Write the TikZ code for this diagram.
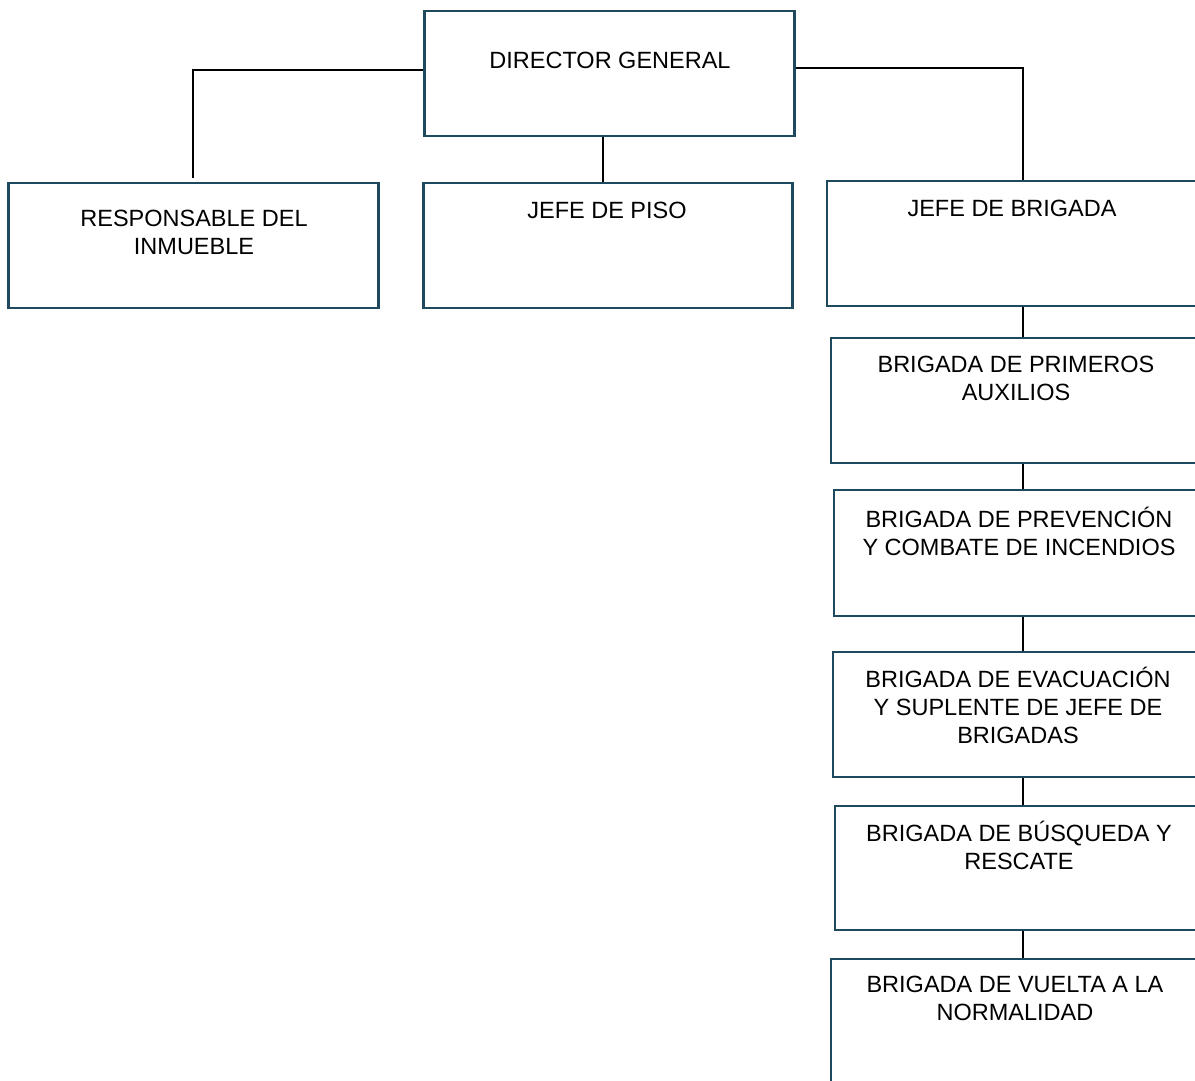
\documentclass[tikz,border=0pt]{standalone}
\usepackage{fontspec}
\setmainfont{Liberation Sans}
\definecolor{boxline}{HTML}{1F4A5E}
\begin{document}
\begin{tikzpicture}[x=1pt,y=-1pt,
  box/.style={draw=boxline,line width=2.6pt,fill=white,inner sep=0pt},
  txt/.style={align=center,font=\fontsize{23.5}{28}\selectfont,inner sep=0pt,text=black},
  link/.style={draw=black,line width=1.1pt}]
\clip (0,0) rectangle (1195,1080);
\fill[white] (0,0) rectangle (1195,1080);
% boxes
\node[box,minimum width=370pt,minimum height=125pt] (dg) at (609.5,73.5) {};
\node[box,minimum width=370pt,minimum height=125pt] (rb) at (193.5,245.5) {};
\node[box,minimum width=369pt,minimum height=125pt] (jp) at (608,245.5) {};
\node[box,minimum width=388pt,minimum height=125pt] (jb) at (1021,243.5) {};
\node[box,minimum width=384pt,minimum height=125pt] (pa) at (1023,400.5) {};
\node[box,minimum width=380pt,minimum height=126pt] (pc) at (1024,553) {};
\node[box,minimum width=382pt,minimum height=125pt] (ev) at (1024,714.5) {};
\node[box,minimum width=380pt,minimum height=124pt] (bs) at (1025,868) {};
\node[box,minimum width=384pt,minimum height=136pt] (vn) at (1023,1027) {};
% texts
\node[txt] (tdg) at (610,60) {DIRECTOR GENERAL};
\node[txt] (trb) at (194,232.5) {RESPONSABLE DEL\\INMUEBLE};
\node[txt] (tjp) at (607,210) {JEFE DE PISO};
\node[txt] (tjb) at (1012,208) {JEFE DE BRIGADA};
\node[txt] (tpa) at (1016,378) {BRIGADA DE PRIMEROS\\AUXILIOS};
\node[txt] (tpc) at (1019,531) {BRIGADA DE PREVENCIÓN\\Y COMBATE DE INCENDIOS};
\node[txt] (tev) at (1018,705.5) {BRIGADA DE EVACUACIÓN\\Y SUPLENTE DE JEFE DE\\BRIGADAS};
\node[txt] (tbs) at (1019,845) {BRIGADA DE BÚSQUEDA Y\\RESCATE};
\node[txt] (tvn) at (1015,998) {BRIGADA DE VUELTA A LA\\NORMALIDAD};
% connectors
\coordinate (lefty) at (0,70);
\coordinate (righty) at (0,68);
\coordinate (spine) at (1023,0);
\coordinate (rbtop) at (193,178);
\draw[link] (dg.west |- lefty) -| (rbtop);
\draw[link] (dg.east |- righty) -| (jb.north -| spine);
\draw[link] (dg.south -| 603,0) -- (jp.north -| 603,0);
\draw[link] (jb.south -| spine) -- (pa.north -| spine);
\draw[link] (pa.south -| spine) -- (pc.north -| spine);
\draw[link] (pc.south -| spine) -- (ev.north -| spine);
\draw[link] (ev.south -| spine) -- (bs.north -| spine);
\draw[link] (bs.south -| spine) -- (vn.north -| spine);
\end{tikzpicture}
\end{document}
